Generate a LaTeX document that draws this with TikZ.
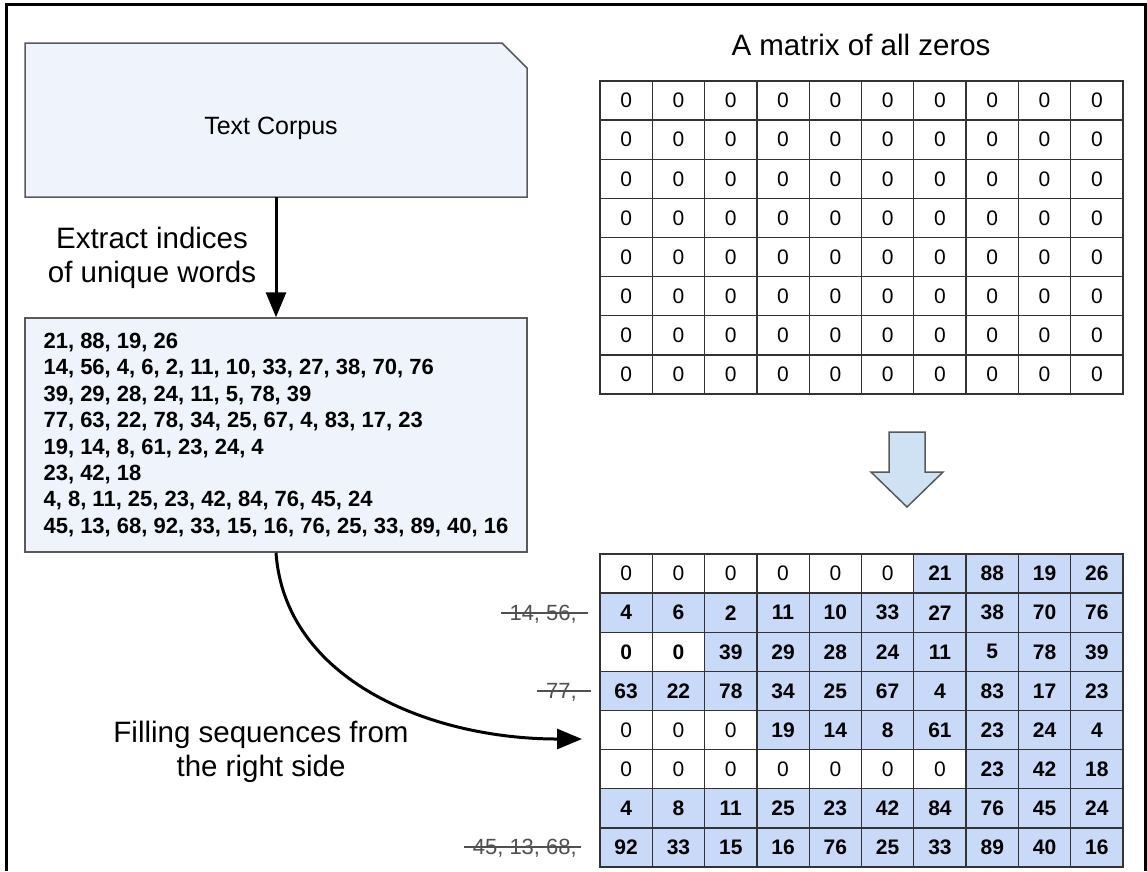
\documentclass[tikz,border=0pt]{standalone}
\usepackage{fontspec}
\setmainfont{Liberation Sans}
\usetikzlibrary{arrows.meta}
\definecolor{cellblue}{HTML}{C9DAF8}
\definecolor{boxfill}{HTML}{EFF4FC}
\definecolor{arrowfill}{HTML}{CFE2F3}
\definecolor{boxline}{HTML}{595959}
\definecolor{gridline}{HTML}{333333}
\definecolor{strikegray}{HTML}{505050}
\tikzset{
  cellbase/.style={draw=gridline, line width=1.3pt, minimum width=52.3pt, minimum height=39.125pt, inner sep=0pt, anchor=center},
  zcell/.style={cellbase, fill=white, font=\fontsize{21}{24}\selectfont},
  zcellb/.style={cellbase, fill=white, font=\fontsize{21}{24}\selectfont\bfseries},
  vcell/.style={cellbase, fill=cellblue, font=\fontsize{21}{24}\selectfont\bfseries},
  bigtext/.style={font=\fontsize{29.5}{33.5}\selectfont, align=center, inner sep=0pt},
  crossed/.style={font=\fontsize{22}{24}\selectfont, text=strikegray, inner sep=0pt, anchor=east, text depth=0pt},
  strike/.style={draw=strikegray, line width=1.5pt},
  connector/.style={line width=3pt, -{Triangle[length=25pt,width=20pt]}},
  boxshape/.style={draw=boxline, line width=1.5pt, fill=boxfill},
}
\begin{document}
\begin{tikzpicture}[x=1pt,y=-1pt]
\useasboundingbox (0,0) rectangle (1147,871);
\fill[white] (0,0) rectangle (1147,871);
\draw[line width=3pt] (6,871) -- (6,4) -- (1145,4) -- (1145,871);

% text corpus box
\draw[boxshape] (25,43) -- (502,43) -- (527,68) -- (527,197) -- (25,197) -- cycle;
\node[minimum width=502pt, minimum height=154pt, inner sep=0pt] (corpus) at (276,120) {};
\node[font=\fontsize{25}{28}\selectfont, inner sep=0pt] (corpuslabel) at (271,128) {Text Corpus};

% list of indices
\node[boxshape, minimum width=502pt, minimum height=234pt, align=left,
      font=\fontsize{22}{26.4}\selectfont\bfseries] (list) at (276,435)
 {21, 88, 19, 26\\
  14, 56, 4, 6, 2, 11, 10, 33, 27, 38, 70, 76\\
  39, 29, 28, 24, 11, 5, 78, 39\\
  77, 63, 22, 78, 34, 25, 67, 4, 83, 17, 23\\
  19, 14, 8, 61, 23, 24, 4\\
  23, 42, 18\\
  4, 8, 11, 25, 23, 42, 84, 76, 45, 24\\
  45, 13, 68, 92, 33, 15, 16, 76, 25, 33, 89, 40, 16};

\draw[connector] (corpus.south) -- (list.north);
\node[bigtext] (extract) at (152,258) {Extract indices\\of unique words};

% matrix of zeros
\node[bigtext] (title) at (861,45) {A matrix of all zeros};
\foreach \r in {1,...,8}{
  \foreach \c in {1,...,10}{
    \node[zcell] (t-\r-\c) at ({600+(\c-0.5)*52.3},{81+(\r-0.5)*39.125}) {0};
  }
}

% block arrow
\draw[draw=boxline, line width=1.5pt, fill=arrowfill, line join=miter]
  (889,432) -- (925,432) -- (925,472) -- (943,472) -- (907,507) -- (871,472) -- (889,472) -- cycle;

% filled matrix
\foreach \r/\nw/\bz/\vals in {
  1/6/0/{0,0,0,0,0,0,21,88,19,26},
  2/0/0/{4,6,2,11,10,33,27,38,70,76},
  3/2/1/{0,0,39,29,28,24,11,5,78,39},
  4/0/0/{63,22,78,34,25,67,4,83,17,23},
  5/3/0/{0,0,0,19,14,8,61,23,24,4},
  6/7/0/{0,0,0,0,0,0,0,23,42,18},
  7/0/0/{4,8,11,25,23,42,84,76,45,24},
  8/0/0/{92,33,15,16,76,25,33,89,40,16}}{
  \foreach \v [count=\c] in \vals {
    \ifnum\c>\nw\relax \def\cellsty{vcell}\else\ifnum\bz=1 \def\cellsty{zcellb}\else\def\cellsty{zcell}\fi\fi
    \node[\cellsty] (b-\r-\c) at ({600+(\c-0.5)*52.3},{554+(\r-0.5)*39.125}) {\v};
  }
}

% crossed-out leftovers
\node[crossed] (x2) at (577,613) {14, 56,};
\draw[strike] ([xshift=-8pt]x2.west) -- ([xshift=11pt]x2.east);
\node[crossed] (x4) at (577,691) {77,};
\draw[strike] ([xshift=-9pt]x4.west) -- ([xshift=14pt]x4.east);
\node[crossed] (x8) at (577,847) {45, 13, 68,};
\draw[strike] ([xshift=-9pt]x8.west) -- ([xshift=4pt]x8.east);

% filling arrow
\coordinate (filltip) at (582,739);
\draw[connector] (list.south) .. controls (285,680) and (430,739) .. (filltip);
\node[bigtext] (filling) at (261,752) {Filling sequences from\\the right side};
\end{tikzpicture}
\end{document}
